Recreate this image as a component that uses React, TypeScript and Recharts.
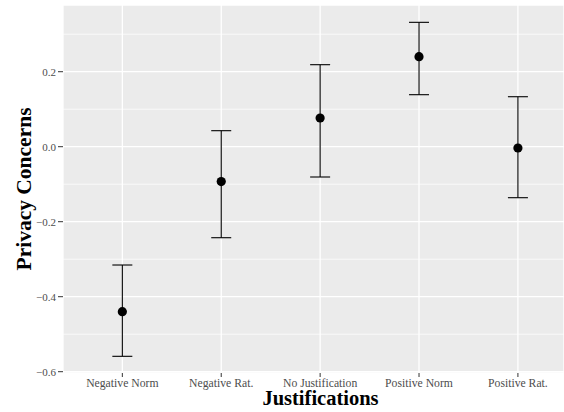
import React from 'react';
import { ScatterChart, Scatter, XAxis, YAxis, CartesianGrid, ErrorBar, ReferenceLine } from 'recharts';

const categories = ['Negative Norm', 'Negative Rat.', 'No Justification', 'Positive Norm', 'Positive Rat.'];
const means = [-0.44, -0.093, 0.0765, 0.24, -0.0035];
const lowers = [-0.559, -0.2427, -0.0808, 0.1387, -0.136];
const uppers = [-0.3155, 0.0427, 0.2187, 0.3317, 0.1333];
const yTicks = [-0.6, -0.4, -0.2, 0, 0.2];
const yMinorTicks = [-0.5, -0.3, -0.1, 0.1, 0.3];

const data = categories.map((c, i) => ({
  pos: i + 1,
  name: c,
  mean: means[i],
  err: [means[i] - lowers[i], uppers[i] - means[i]],
}));

const FONT = '"Liberation Serif", "Times New Roman", serif';

const fmtY = (v: number) => {
  const s = Math.abs(v).toFixed(1);
  return v < -1e-9 ? '\u2212' + s : s;
};

const Dot = (props: any) => <circle cx={props.cx} cy={props.cy} r={4.6} fill="#000" />;

export default function App() {
  return (
    <div style={{ position: 'absolute', left: 0, top: 0, width: 564, height: 412, background: '#fff', fontFamily: FONT }}>
      <ScatterChart width={564} height={412} margin={{ top: 5, right: 0, bottom: 0, left: 0 }} style={{ fontFamily: FONT }}>
        <CartesianGrid fill="#EBEBEB" stroke="#FFFFFF" strokeWidth={1.3} />
        {yMinorTicks.map((v) => (
          <ReferenceLine key={v} y={v} stroke="#FFFFFF" strokeWidth={0.7} ifOverflow="hidden" />
        ))}
        <XAxis
          type="number"
          dataKey="pos"
          domain={[0.4, 5.466]}
          ticks={[1, 2, 3, 4, 5]}
          allowDataOverflow
          height={39}
          axisLine={false}
          tickSize={4}
          tickMargin={2}
          tickLine={{ stroke: '#333333', strokeWidth: 1 }}
          tick={{ fill: '#4D4D4D', fontSize: 11.7, fontFamily: FONT, style: { fontFamily: FONT } }}
          tickFormatter={(v: number) => categories[Math.round(v) - 1] ?? ''}
          interval={0}
          label={{
            value: 'Justifications',
            position: 'insideBottom',
            offset: 7.5,
            dx: 7,
            style: { fontFamily: FONT, fontWeight: 'bold', fontSize: 20.5, fill: '#000' },
          }}
        />
        <YAxis
          type="number"
          dataKey="mean"
          domain={[-0.6035, 0.3779]}
          ticks={yTicks}
          allowDataOverflow
          width={63}
          axisLine={false}
          tickSize={5}
          tickMargin={2}
          tickLine={{ stroke: '#333333', strokeWidth: 1 }}
          tick={{ fill: '#4D4D4D', fontSize: 11, fontFamily: FONT, style: { fontFamily: FONT } }}
          tickFormatter={fmtY}
          interval={0}
          label={{
            value: 'Privacy Concerns',
            angle: -90,
            position: 'insideLeft',
            offset: 23,
            style: { textAnchor: 'middle', fontFamily: FONT, fontWeight: 'bold', fontSize: 21.5, fill: '#000' },
          }}
        />
        <Scatter data={data} dataKey="mean" shape={Dot} isAnimationActive={false}>
          <ErrorBar dataKey="err" direction="y" width={10} stroke="#000" strokeWidth={1.1} isAnimationActive={false} />
        </Scatter>
      </ScatterChart>
    </div>
  );
}
